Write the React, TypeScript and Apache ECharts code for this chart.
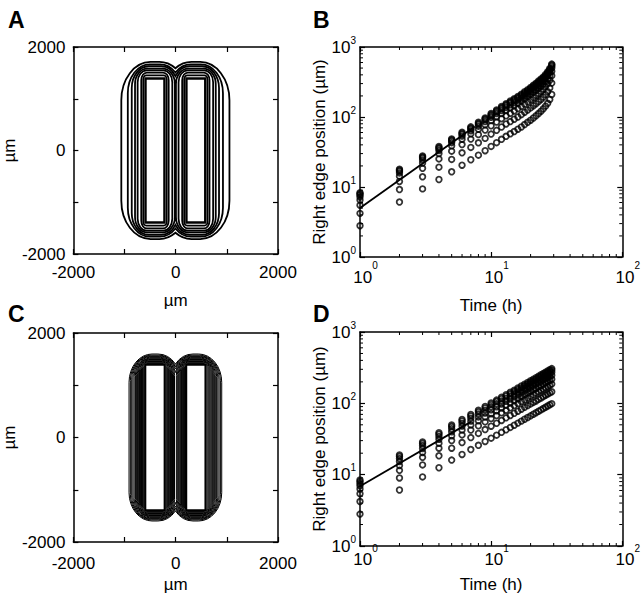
import React, { useEffect, useRef } from 'react';
import * as echarts from 'echarts';

const FONT = '"Liberation Sans", Arial, Helvetica, sans-serif';

// ---- Panels A and C: source rectangles and contour levels (µm) ----
const rectXLeft = [-590, -220];
const rectXRight = [210, 578];
const rectHalfHeight = 1390;
// offset of each contour from the rectangles, and the radii of its rounded corners
const contourDxA = [0, 44, 83, 154, 205, 269, 346, 473];
const contourDyA = [0, 60, 116, 160, 193, 238, 276, 321];
const cornerRxA = [0, 60, 110, 180, 240, 330, 430, 570];
const cornerRyA = [0, 70, 150, 230, 300, 420, 560, 740];
const contourDxC = [0, 18, 37, 58, 78, 97, 118, 139, 158, 178, 197, 222, 246, 270, 296, 322];
const contourDyC = [0, 12, 25, 38, 51, 64, 77, 90, 103, 116, 129, 144, 158, 172, 188, 208];
const cornerRxC = [0, 25, 50, 80, 105, 130, 160, 190, 215, 245, 270, 300, 335, 370, 410, 450];
const cornerRyC = [0, 30, 62, 95, 128, 160, 195, 228, 262, 295, 330, 370, 405, 445, 490, 540];
const spaceTickLabels = [-2000, 0, 2000];

// ---- Panels B and D: right edge position vs time ----
const hours = [1, 2, 3, 4, 5, 6, 7, 8, 9, 10, 11, 12, 13, 14, 15, 16, 17, 18, 19, 20, 21, 22, 23, 24, 25, 26, 27, 28, 29];

const edgeB1 = [2.8, 6.1, 9.4, 12.8, 16.5, 20.5, 24.5, 28.5, 33, 38, 43, 48, 53, 57.5, 62, 67, 72, 78, 84, 90, 97, 104, 112, 121, 131, 143, 157, 178, 210];
const edgeB2 = [4.2, 9.2, 14, 19.2, 24.8, 30.8, 36.8, 42.8, 49.5, 57, 64.5, 72, 79.5, 86, 93, 100, 108, 117, 126, 135, 145, 155, 166, 178, 192, 209, 230, 260, 305];
const edgeB3 = [5.5, 12, 18.5, 25.2, 32.5, 40.4, 48.3, 56, 65, 75, 84.5, 94.5, 104, 113, 122, 132, 142, 153, 165, 177, 190, 203, 217, 233, 250, 272, 298, 335, 390];
const edgeB4 = [6.5, 14.3, 22, 30, 38.8, 48.2, 57.6, 67, 77.5, 89, 101, 112, 124, 135, 145, 157, 169, 182, 196, 210, 225, 240, 257, 275, 295, 320, 350, 390, 450];
const edgeB5 = [7.2, 15.9, 24.4, 33.3, 43, 53.3, 63.7, 74, 86, 99, 112, 124, 137, 149, 161, 174, 187, 202, 217, 233, 250, 267, 286, 306, 328, 355, 390, 435, 500];
const edgeB6 = [7.7, 16.8, 25.9, 35.2, 45.4, 56.4, 67.4, 78.4, 91, 104, 118, 131, 145, 158, 170, 184, 198, 214, 230, 247, 265, 283, 303, 325, 348, 376, 412, 460, 530];
const edgeB7 = [8, 17.4, 26.8, 36.5, 47, 58.4, 69.8, 81.2, 94, 108, 122, 136, 150, 163, 176, 190, 205, 221, 238, 256, 275, 294, 315, 337, 361, 390, 428, 478, 555];
const edgeB8 = [8.3, 18, 27.7, 37.8, 48.7, 60.5, 72.3, 84, 97, 112, 126, 141, 155, 169, 182, 197, 212, 229, 246, 265, 284, 304, 326, 349, 374, 404, 443, 495, 570];

const edgeD1 = [2.8, 6.1, 9.3, 12.5, 16.0, 19.2, 22.5, 25.8, 29.2, 32.5, 35.8, 39.2, 42.6, 46.0, 49.4, 52.8, 56.3, 59.8, 63.3, 66.8, 70.3, 73.8, 77.4, 80.9, 84.5, 88.1, 91.7, 95.3, 99];
const edgeD2 = [4.2, 9.0, 13.7, 18.4, 23.5, 28.2, 33.1, 37.9, 42.9, 47.8, 52.6, 57.6, 62.6, 67.6, 72.6, 77.6, 82.8, 87.9, 93.1, 98.2, 103, 108, 114, 119, 124, 130, 135, 140, 145];
const edgeD3 = [5.4, 11.5, 17.5, 23.5, 30.1, 36.1, 42.3, 48.5, 54.9, 61.1, 67.3, 73.7, 80.1, 86.5, 92.9, 99.3, 106, 112, 119, 126, 132, 139, 146, 152, 159, 166, 172, 179, 186];
const edgeD4 = [6.3, 13.4, 20.5, 27.5, 35.2, 42.2, 49.5, 56.8, 64.2, 71.5, 78.8, 86.2, 93.7, 101, 109, 116, 124, 132, 139, 147, 155, 162, 170, 178, 186, 194, 202, 210, 218];
const edgeD5 = [7.0, 15.3, 23.3, 31.3, 40, 48, 56.3, 64.5, 73, 81.3, 89.5, 98, 107, 115, 124, 132, 141, 150, 158, 167, 176, 185, 194, 202, 211, 220, 229, 238, 248];
const edgeD6 = [7.5, 16.8, 25.6, 34.4, 44, 52.8, 61.9, 71, 80.3, 89.4, 98.5, 108, 117, 127, 136, 145, 155, 164, 174, 184, 193, 203, 213, 222, 232, 242, 252, 262, 272];
const edgeD7 = [8.0, 18, 27.4, 36.9, 47.2, 56.6, 66.4, 76.1, 86.1, 95.9, 106, 116, 126, 136, 146, 156, 166, 176, 187, 197, 207, 218, 228, 239, 249, 260, 271, 281, 292];
const edgeD8 = [8.4, 18.9, 28.8, 38.8, 49.6, 59.5, 69.8, 80, 90.5, 101, 111, 122, 132, 143, 153, 164, 175, 185, 196, 207, 218, 229, 240, 251, 262, 273, 284, 295, 307];

const fitTimeB = [1, 7.5];
const fitValueB = [5.0, 73];
const fitTimeD = [1, 7];
const fitValueD = [6.9, 55];

const minorTicksX = [2, 3, 4, 5, 6, 7, 8, 9, 20, 30, 40, 50, 60, 70, 80, 90];
const minorTicksY = [2, 3, 4, 5, 6, 7, 8, 9, 20, 30, 40, 50, 60, 70, 80, 90, 200, 300, 400, 500, 600, 700, 800, 900];

const seriesB = [edgeB1, edgeB2, edgeB3, edgeB4, edgeB5, edgeB6, edgeB7, edgeB8];
const seriesD = [edgeD1, edgeD2, edgeD3, edgeD4, edgeD5, edgeD6, edgeD7, edgeD8];

function makeContourRenderer(lineWidth: number) {
  return (params: any, api: any) => {
    const dx = api.value(0) as number;
    const dy = api.value(1) as number;
    const crx = api.value(2) as number;
    const cry = api.value(3) as number;
    const c = (x: number, y: number) => api.coord([x, y]);
    const o = c(0, 0);
    const sx = Math.abs(c(1000, 0)[0] - o[0]) / 1000;
    const sy = Math.abs(c(0, 1000)[1] - o[1]) / 1000;
    const style = { fill: 'none', stroke: '#000', lineWidth };
    const lL = c(rectXLeft[0] - dx, 0)[0];
    const rL = c(rectXLeft[1] + dx, 0)[0];
    const lR = c(rectXRight[0] - dx, 0)[0];
    const rR = c(rectXRight[1] + dx, 0)[0];
    const t = c(0, rectHalfHeight + dy)[1];
    const b = c(0, -rectHalfHeight - dy)[1];
    if (dx === 0 && dy === 0) {
      const s2 = { ...style, lineWidth: lineWidth + 0.6 };
      return {
        type: 'group',
        children: [
          { type: 'rect', shape: { x: lL, y: t, width: rL - lL, height: b - t }, style: s2 },
          { type: 'rect', shape: { x: lR, y: t, width: rR - lR, height: b - t }, style: s2 },
        ],
      };
    }
    const rx = Math.min(crx * sx, (rL - lL) / 2);
    const ry = Math.min(cry * sy, (b - t) / 2);
    const arc = (x: number, y: number) => `A ${rx} ${ry} 0 0 1 ${x} ${y}`;
    const rr = (l: number, r: number) =>
      [
        `M ${l} ${t + ry}`, arc(l + rx, t), `L ${r - rx} ${t}`, arc(r, t + ry),
        `L ${r} ${b - ry}`, arc(r - rx, b), `L ${l + rx} ${b}`, arc(l, b - ry), 'Z',
      ].join(' ');
    if (rL <= lR) {
      return { type: 'path', shape: { pathData: rr(lL, rL) + ' ' + rr(lR, rR) }, style };
    }
    const gc = (rL + lR) / 2;
    const u = Math.max(0, (gc - (rL - rx)) / rx);
    const k = Math.sqrt(Math.max(0, 1 - u * u));
    const yTop = t + ry - ry * k;
    const yBot = b - ry + ry * k;
    const d = [
      `M ${lL} ${t + ry}`, arc(lL + rx, t), `L ${rL - rx} ${t}`, arc(gc, yTop), arc(lR + rx, t),
      `L ${rR - rx} ${t}`, arc(rR, t + ry), `L ${rR} ${b - ry}`, arc(rR - rx, b), `L ${lR + rx} ${b}`,
      arc(gc, yBot), arc(rL - rx, b), `L ${lL + rx} ${b}`, arc(lL, b - ry), 'Z',
    ].join(' ');
    return { type: 'path', shape: { pathData: d }, style };
  };
}

function minorTickRenderer(axis: 'x' | 'y', lo: number, hi: number) {
  return (params: any, api: any) => {
    const v = api.value(axis === 'x' ? 0 : 1) as number;
    const style = { stroke: '#000', lineWidth: 1 };
    if (axis === 'x') {
      const p1 = api.coord([v, lo]);
      const p2 = api.coord([v, hi]);
      return {
        type: 'group',
        children: [
          { type: 'line', shape: { x1: p1[0], y1: p1[1], x2: p1[0], y2: p1[1] - 3 }, style },
          { type: 'line', shape: { x1: p2[0], y1: p2[1], x2: p2[0], y2: p2[1] + 3 }, style },
        ],
      };
    }
    const p1 = api.coord([lo, v]);
    const p2 = api.coord([hi, v]);
    return {
      type: 'group',
      children: [
        { type: 'line', shape: { x1: p1[0], y1: p1[1], x2: p1[0] + 3, y2: p1[1] }, style },
        { type: 'line', shape: { x1: p2[0], y1: p2[1], x2: p2[0] - 3, y2: p2[1] }, style },
      ],
    };
  };
}

const axisLineStyle = { color: '#000', width: 1.5 };
const common = {
  axisLine: { show: true, onZero: false, lineStyle: axisLineStyle },
  axisTick: { show: true, inside: true, length: 5, lineStyle: { color: '#000', width: 1.2 } },
  splitLine: { show: false },
  nameTextStyle: { color: '#000', fontSize: 17, fontFamily: FONT },
};

function spaceAxes(grid: number, labelMargin: number, xNameGap: number, yNameGap: number) {
  const fmt = (v: number) => (spaceTickLabels.indexOf(v) >= 0 ? String(v) : '');
  const label = { color: '#000', fontSize: 17, fontFamily: FONT, formatter: fmt };
  const base = { type: 'value', gridIndex: grid, min: -2000, max: 2000, interval: 1000, ...common };
  return {
    x: [
      { ...base, position: 'bottom', axisLabel: { ...label, margin: labelMargin }, name: 'µm', nameLocation: 'middle', nameGap: xNameGap },
      { ...base, position: 'top', axisLabel: { show: false } },
    ],
    y: [
      { ...base, position: 'left', axisLabel: { ...label, margin: 8 }, name: 'µm', nameLocation: 'middle', nameGap: yNameGap },
      { ...base, position: 'right', axisLabel: { show: false } },
    ],
  };
}

function logAxes(grid: number, xLabelMargin: number, xLineH: number, xNameGap: number) {
  const fmt = (v: number) => `{b|10}{s|${Math.round(Math.log10(v))}}`;
  const xLabel = {
    color: '#000', fontFamily: FONT, formatter: fmt, margin: xLabelMargin,
    rich: {
      b: { fontSize: 17, fontFamily: FONT, color: '#000', lineHeight: xLineH, verticalAlign: 'bottom', padding: [0, 0, 0, 11] },
      s: { fontSize: 10, fontFamily: FONT, color: '#000', lineHeight: 10, verticalAlign: 'top' },
    },
  };
  const yLabel = {
    color: '#000', fontFamily: FONT, formatter: fmt, margin: 4,
    rich: {
      b: { fontSize: 17, fontFamily: FONT, color: '#000', lineHeight: 24 },
      s: { fontSize: 10, fontFamily: FONT, color: '#000', lineHeight: 10, verticalAlign: 'top' },
    },
  };
  const bx = { type: 'log', logBase: 10, gridIndex: grid, min: 1, max: 100, ...common };
  const by = { type: 'log', logBase: 10, gridIndex: grid, min: 1, max: 1000, ...common };
  return {
    x: [
      { ...bx, position: 'bottom', axisLabel: xLabel, name: 'Time (h)', nameLocation: 'middle', nameGap: xNameGap },
      { ...bx, position: 'top', axisLabel: { show: false } },
    ],
    y: [
      { ...by, position: 'left', axisLabel: yLabel, name: 'Right edge position (µm)', nameLocation: 'middle', nameGap: 29 },
      { ...by, position: 'right', axisLabel: { show: false } },
    ],
  };
}

function scatterSeries(list: number[][], axisIdx: number) {
  return list.map((vals, k) => ({
    type: 'scatter',
    name: `s${axisIdx}-${k}`,
    xAxisIndex: axisIdx,
    yAxisIndex: axisIdx,
    data: hours.map((h, i) => [h, vals[i]]),
    symbol: 'circle',
    symbolSize: 5.6,
    itemStyle: { color: 'rgba(0,0,0,0)', borderColor: '#000', borderWidth: 1.8 },
    z: 3,
  }));
}

function minorSeries(axisIdx: number, xLo: number, xHi: number, yLo: number, yHi: number) {
  return [
    {
      type: 'custom', xAxisIndex: axisIdx, yAxisIndex: axisIdx, silent: true,
      data: minorTicksX.filter((v) => v < xHi).map((v) => [v, yLo]),
      renderItem: minorTickRenderer('x', yLo, yHi),
    },
    {
      type: 'custom', xAxisIndex: axisIdx, yAxisIndex: axisIdx, silent: true,
      data: minorTicksY.filter((v) => v < yHi).map((v) => [xLo, v]),
      renderItem: minorTickRenderer('y', xLo, xHi),
    },
  ];
}

export default function App() {
  const ref = useRef<HTMLDivElement>(null);
  useEffect(() => {
    document.body.style.margin = '0';
    const chart = echarts.init(ref.current!, null, { renderer: 'svg' });
    const A = spaceAxes(0, 10, 38, 44);
    const Bx = logAxes(1, 3, 25.5, 40);
    const C = spaceAxes(2, 13, 34, 44);
    const Dx = logAxes(3, -3, 24.5, 30);
    const letter = (t: string, left: number, top: number) => ({
      type: 'text', left, top,
      style: { text: t, fill: '#000', font: `bold 23px ${FONT}` },
    });
    chart.setOption({
      animation: false,
      backgroundColor: '#fff',
      textStyle: { fontFamily: FONT },
      grid: [
        { left: 70, top: 47, width: 208, height: 207 },
        { left: 360, top: 47, width: 270, height: 210 },
        { left: 70, top: 333, width: 208, height: 209 },
        { left: 360, top: 332, width: 270, height: 214 },
      ],
      xAxis: [...A.x, ...Bx.x, ...C.x, ...Dx.x],
      yAxis: [...A.y, ...Bx.y, ...C.y, ...Dx.y],
      graphic: [letter('A', 8, 8), letter('B', 313, 8), letter('C', 8, 302), letter('D', 313, 302)],
      series: [
        {
          type: 'custom', xAxisIndex: 0, yAxisIndex: 0, silent: true,
          data: contourDxA.map((dx, i) => [dx, contourDyA[i], cornerRxA[i], cornerRyA[i]]),
          renderItem: makeContourRenderer(1.8),
        },
        {
          type: 'custom', xAxisIndex: 4, yAxisIndex: 4, silent: true,
          data: contourDxC.map((dx, i) => [dx, contourDyC[i], cornerRxC[i], cornerRyC[i]]),
          renderItem: makeContourRenderer(1.0),
        },
        ...scatterSeries(seriesB, 2),
        {
          type: 'line', xAxisIndex: 2, yAxisIndex: 2, symbol: 'none',
          data: fitTimeB.map((t, i) => [t, fitValueB[i]]),
          lineStyle: { color: '#000', width: 1.8 }, z: 4,
        },
        ...minorSeries(2, 1, 100, 1, 1000),
        ...scatterSeries(seriesD, 6),
        {
          type: 'line', xAxisIndex: 6, yAxisIndex: 6, symbol: 'none',
          data: fitTimeD.map((t, i) => [t, fitValueD[i]]),
          lineStyle: { color: '#000', width: 1.8 }, z: 4,
        },
        ...minorSeries(6, 1, 100, 1, 1000),
      ],
    });
    return () => chart.dispose();
  }, []);
  return <div ref={ref} style={{ width: 643, height: 597 }} />;
}
